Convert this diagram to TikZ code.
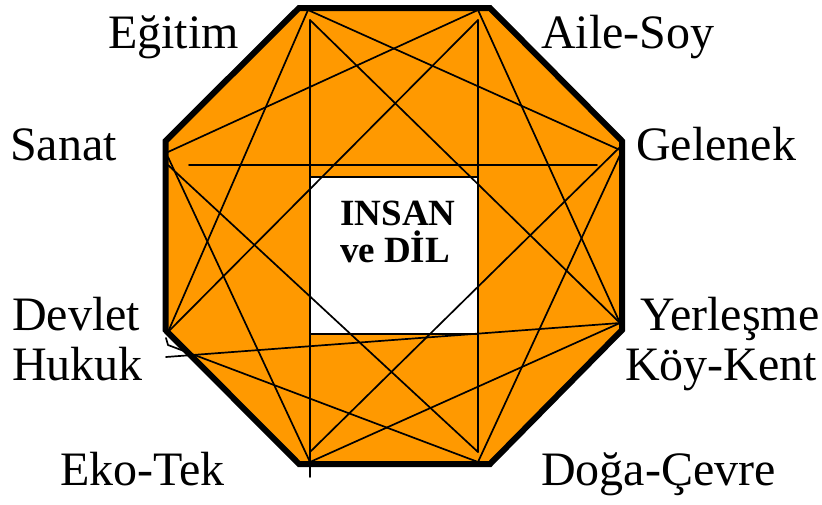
\documentclass[tikz,border=0pt]{standalone}
\usepackage{fontspec}
\setmainfont{Liberation Serif}
\definecolor{orng}{RGB}{255,153,0}
\begin{document}
\begin{tikzpicture}[x=1pt,y=-1pt,
  lbl/.style={anchor=base west, inner sep=0pt, font=\fontsize{48}{48}\selectfont},
  ctr/.style={anchor=base, inner sep=0pt, font=\bfseries\fontsize{37}{37}\selectfont},
  web/.style={line width=1.7pt, line cap=round},
  rim/.style={line width=6pt, line join=miter}]
\useasboundingbox (0,0) rectangle (822,504);
% octagon corners
\coordinate (o1) at (299,8);
\coordinate (o2) at (490,8);
\coordinate (o3) at (622,141);
\coordinate (o4) at (622,330);
\coordinate (o5) at (490,464);
\coordinate (o6) at (299,464);
\coordinate (o7) at (165.5,330);
\coordinate (o8) at (165.5,141);
\fill[orng] (o1) -- (o2) -- (o3) -- (o4) -- (o5) -- (o6) -- (o7) -- (o8) -- cycle;
% centre box
\node[draw=black, fill=white, line width=1.5pt, minimum width=168pt, minimum height=157pt, inner sep=0pt] (box) at (394,255.5) {};
% web end points
\coordinate (Ea) at (308,10);
\coordinate (Eb) at (310,20);
\coordinate (Aa) at (478,10);
\coordinate (Ab) at (478,20);
\coordinate (Ga) at (620,150);
\coordinate (Gb) at (620,147);
\coordinate (Gc) at (620,155);
\coordinate (Ya) at (620,323);
\coordinate (Da) at (478,462);
\coordinate (Db) at (478,452);
\coordinate (Ta) at (310,462);
\coordinate (Tb) at (310,452);
\coordinate (Tc) at (310,477);
\coordinate (Va) at (168,332);
\coordinate (Vb) at (168,345);
\coordinate (Vc) at (166,338);
\coordinate (Vd) at (166,357);
\coordinate (Sa) at (168,152);
\coordinate (Sb) at (168,157);
\coordinate (Sc) at (168,165);
\coordinate (Ha) at (189,165);
\coordinate (Hb) at (597,165);
% two squares (every second corner)
\draw[web] (Ea) -- (Ga);
\draw[web] (Ea) -- (Va);
\draw[web] (Aa) -- (Sa);
\draw[web] (Aa) -- (Ya);
\draw[web] (Gc) -- (Da);
\draw[web] (Ya) -- (Ta);
\draw[web] (Da) -- (Vb) -- (Vc);
\draw[web] (Ta) -- (Sb);
% star of every third corner
\draw[web] (Eb) -- (Ya);
\draw[web] (Ab) -- (Db);
\draw[web] (Gb) -- (Tb);
\draw[web] (Ya) -- (Vd);
\draw[web] (Sc) -- (Db);
\draw[web] (Eb) -- (Tc);
\draw[web] (Ab) -- (Va);
\draw[web] (Ha) -- (Hb);
% rim
\draw[rim] (o1) -- (o2) -- (o3) -- (o4) -- (o5) -- (o6) -- (o7) -- (o8) -- cycle;
% centre text
\node[ctr] (t1) at (398,225) {INSAN};
\node[ctr] (t2) at (395,262) {ve DİL};
% labels
\node[lbl] (egt) at (108,48) {Eğitim};
\node[lbl] (ail) at (541,48) {Aile-Soy};
\node[lbl] (san) at (10,160) {Sanat};
\node[lbl] (gel) at (636,160) {Gelenek};
\node[lbl] (dev) at (12,330) {Devlet};
\node[lbl] (huk) at (12,380) {Hukuk};
\node[lbl] (yer) at (640,330) {Yerleşme};
\node[lbl] (koy) at (625,380) {Köy-Kent};
\node[lbl] (eko) at (60,485) {Eko-Tek};
\node[lbl] (dog) at (541,485) {Doğa-Çevre};
\end{tikzpicture}
\end{document}
